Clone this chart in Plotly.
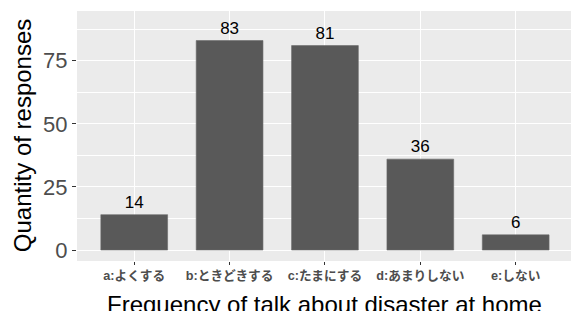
import plotly.graph_objects as go

categories = ["a:よくする", "b:ときどきする", "c:たまにする", "d:あまりしない", "e:しない"]
counts = [14, 83, 81, 36, 6]
y_ticks = [0, 25, 50, 75]

FONT = "Arial, 'Liberation Sans', 'Noto Sans CJK JP', sans-serif"

fig = go.Figure(go.Bar(
    x=categories, y=counts, width=0.7,
    marker=dict(color="#595959", line=dict(color="#6a6a6a", width=0.6)),
    text=[str(v) for v in counts], textposition="outside",
    textfont=dict(family=FONT, size=17, color="black"),
    cliponaxis=False,
))

fig.update_layout(
    width=571, height=311,
    margin=dict(l=77, r=0, t=11, b=50, autoexpand=False),
    paper_bgcolor="white", plot_bgcolor="#EBEBEB",
    showlegend=False, bargap=0.3,
    font=dict(family=FONT),
    annotations=[
        dict(text="Frequency of talk about disaster at home", xref="paper", yref="paper",
             x=0.5, y=-0.172, xanchor="center", yanchor="middle", showarrow=False,
             font=dict(family=FONT, size=24, color="black")),
        dict(text="Quantity of responses", xref="paper", yref="paper",
             x=-0.111, y=0.5, xanchor="center", yanchor="middle", showarrow=False,
             textangle=-90, font=dict(family=FONT, size=24, color="black")),
    ],
)
fig.update_xaxes(
    type="category", range=[-0.6, 4.58], automargin=False, tickangle=0,
    showgrid=True, gridcolor="white", gridwidth=1.2,
    ticks="outside", ticklen=3, tickcolor="#333333", tickwidth=1,
    tickfont=dict(family=FONT, size=12.7, color="#4d4d4d", weight=600),
    zeroline=False, showline=False,
)
fig.update_yaxes(
    range=[-4.36, 94.7], tickvals=y_ticks, automargin=False,
    showgrid=True, gridcolor="white", gridwidth=1.2,
    minor=dict(dtick=12.5, tick0=0, showgrid=True, gridcolor="white", gridwidth=0.6),
    ticks="outside", ticklen=4, tickcolor="#333333", tickwidth=1,
    tickfont=dict(family=FONT, size=22, color="#4d4d4d"),
    zeroline=False, showline=False,
)

fig.write_html("out.html", config={"displayModeBar": False},
               post_script="document.body.style.margin='0';")
